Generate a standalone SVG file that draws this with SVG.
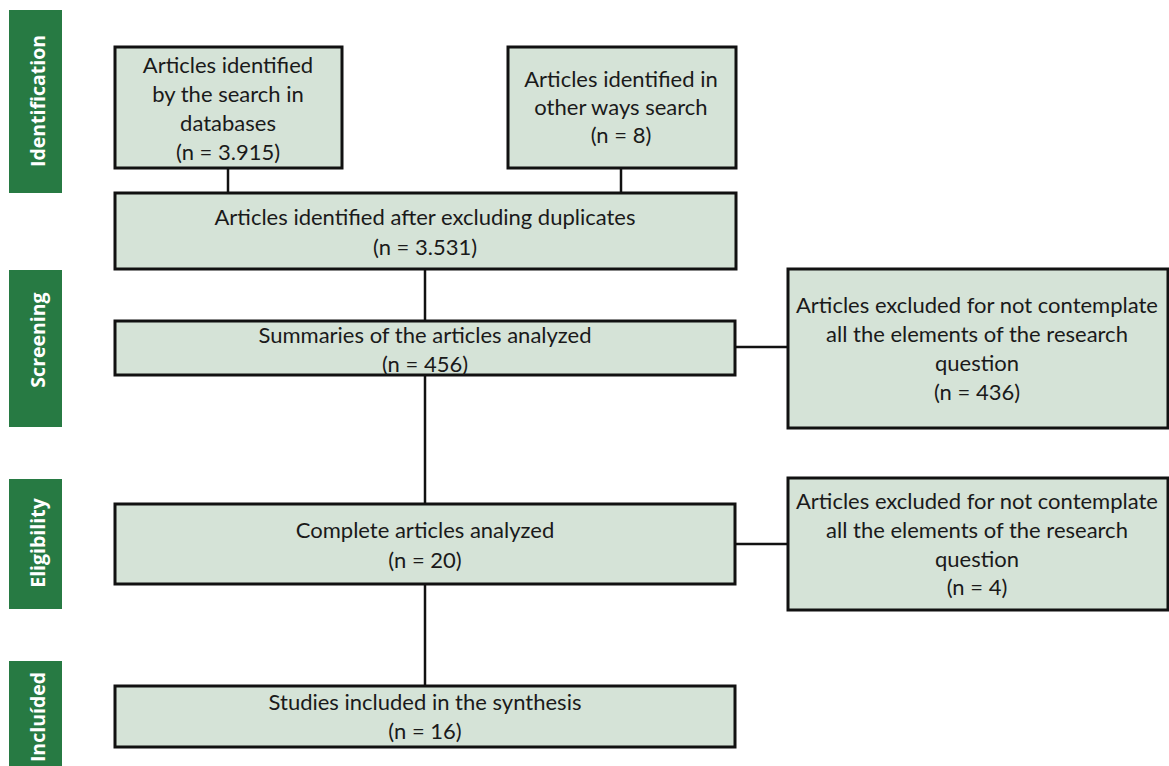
<svg xmlns="http://www.w3.org/2000/svg" width="1169" height="766" viewBox="0 0 1169 766">
<style>
.box{fill:#d5e3d7;stroke:#111;stroke-width:3}
.bar{fill:#277a43}
.t{font-family:Lato,"Liberation Sans",sans-serif;font-size:22px;fill:#1a1a1a;text-anchor:middle}
.v{font-family:"Open Sans","Liberation Sans",sans-serif;font-weight:bold;font-size:19.5px;fill:#fff;text-anchor:middle}
.c{stroke:#111;stroke-width:2.5;fill:none}
</style>
<rect width="1169" height="766" fill="#fff"/>
<g id="stage-identification"><rect class="bar" x="9" y="10" width="53" height="183"/><text class="v" transform="translate(45,101) rotate(-90)">Identification</text></g>
<g id="stage-screening"><rect class="bar" x="9" y="270" width="53" height="157"/><text class="v" transform="translate(45,340) rotate(-90)">Screening</text></g>
<g id="stage-eligibility"><rect class="bar" x="9" y="479" width="53" height="130"/><text class="v" transform="translate(45,543) rotate(-90)">Eligibility</text></g>
<g id="stage-included"><rect class="bar" x="9" y="661" width="53" height="110"/><text class="v" transform="translate(45,717) rotate(-90)">Incluíded</text></g>
<g id="connectors">
<line class="c" x1="228" y1="168" x2="228" y2="193"/>
<line class="c" x1="621" y1="168" x2="621" y2="193"/>
<line class="c" x1="425" y1="269" x2="425" y2="321"/>
<line class="c" x1="425" y1="375" x2="425" y2="504"/>
<line class="c" x1="425" y1="584" x2="425" y2="686"/>
<line class="c" x1="735" y1="347" x2="787" y2="347"/>
<line class="c" x1="735" y1="544" x2="787" y2="544"/>
</g>
<g id="n-databases"><rect class="box" x="115" y="47" width="227" height="121"/>
<text class="t" x="228" y="73">Articles identified</text><text class="t" x="228" y="102">by the search in</text><text class="t" x="228" y="131">databases</text><text class="t" x="228" y="160">(n = 3.915)</text></g>
<g id="n-other"><rect class="box" x="508" y="47" width="228" height="121"/>
<text class="t" x="621" y="87">Articles identified in</text><text class="t" x="621" y="115">other ways search</text><text class="t" x="621" y="143">(n = 8)</text></g>
<g id="n-duplicates"><rect class="box" x="115" y="193" width="621" height="76"/>
<text class="t" x="425" y="225">Articles identified after excluding duplicates</text><text class="t" x="425" y="255">(n = 3.531)</text></g>
<g id="n-summaries"><rect class="box" x="115" y="321" width="620" height="54"/>
<text class="t" x="425" y="343">Summaries of the articles analyzed</text><text class="t" x="425" y="372">(n = 456)</text></g>
<g id="n-excluded1"><rect class="box" x="788" y="269" width="380" height="159"/>
<text class="t" x="977" y="313">Articles excluded for not contemplate</text><text class="t" x="977" y="342">all the elements of the research</text><text class="t" x="977" y="371">question</text><text class="t" x="977" y="400">(n = 436)</text></g>
<g id="n-complete"><rect class="box" x="115" y="504" width="620" height="80"/>
<text class="t" x="425" y="538">Complete articles analyzed</text><text class="t" x="425" y="568">(n = 20)</text></g>
<g id="n-excluded2"><rect class="box" x="788" y="478" width="380" height="132"/>
<text class="t" x="977" y="509">Articles excluded for not contemplate</text><text class="t" x="977" y="538">all the elements of the research</text><text class="t" x="977" y="567">question</text><text class="t" x="977" y="595">(n = 4)</text></g>
<g id="n-included"><rect class="box" x="115" y="686" width="620" height="61"/>
<text class="t" x="425" y="710">Studies included in the synthesis</text><text class="t" x="425" y="739">(n = 16)</text></g>
</svg>
